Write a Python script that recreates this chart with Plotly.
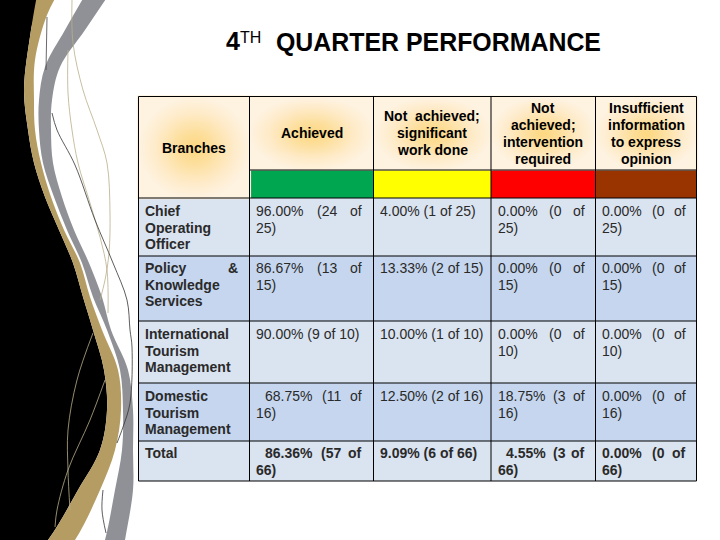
import numpy as np
import plotly.graph_objects as go

# table content, "|" marks a line break, leading space marks an indented first line
title_parts = ["4", "TH", "QUARTER PERFORMANCE"]
col_headers = ["Branches", "Achieved", "Not  achieved;|significant|work done",
               "Not|achieved;|intervention|required",
               "Insufficient|information|to express|opinion"]
branches = ["Chief|Operating|Officer", "Policy & |Knowledge|Services",
            "International|Tourism|Management", "Domestic|Tourism|Management", "Total"]
achieved = ["96.00% (24 of|25)", "86.67% (13 of|15)", "90.00% (9 of 10)",
            " 68.75% (11 of|16)", " 86.36% (57 of|66)"]
significant = ["4.00% (1 of 25)", "13.33% (2 of 15)", "10.00% (1 of 10)",
               "12.50% (2 of 16)", "9.09% (6 of 66)"]
intervention = ["0.00% (0 of|25)", "0.00% (0 of|15)", "0.00% (0 of|10)",
                "18.75% (3 of|16)", " 4.55% (3 of|66)"]
insufficient = ["0.00% (0 of|25)", "0.00% (0 of|15)", "0.00% (0 of|10)",
                "0.00% (0 of|16)", "0.00% (0 of|66)"]
status_colors = ["#00A650", "#FFFF00", "#FF0000", "#993300"]

# table geometry in picture pixels
col_edges = [138.5, 249.5, 373.5, 491, 595.5, 696.5]
row_edges = [96.5, 170, 198, 256, 321, 383, 441, 481]
text_right = [238, 362, 485, 585, 686]
first_line = [211, 268, 334, 396, 453]
LINE = 16.6
FONT = "Liberation Sans, Arial, sans-serif"

fig = go.Figure()


def swoosh(x, y, color):
    fig.add_trace(go.Scatter(x=x, y=y, mode="lines", fill="toself", fillcolor=color,
                             line=dict(color=color, width=0, shape="spline", smoothing=1),
                             hoverinfo="skip"))


def thread(x, y, color):
    fig.add_trace(go.Scatter(x=x, y=y, mode="lines", hoverinfo="skip",
                             line=dict(color=color, width=0.8, shape="spline")))


# left hand slide decoration
gold_out_x = [38, 31, 24, 28, 34, 45, 59, 73, 83, 93, 104, 107, 100, 78, 48, 20]
gold_out_y = [-10, 30, 90, 130, 163, 197, 230, 263, 297, 330, 370, 410, 450, 490, 540, 570]
gold_in_x = [60, 47, 35, 34, 35, 41, 51, 64, 80, 90, 102, 118, 121, 115, 100, 75, 50]
gold_in_y = [-10, 15, 60, 100, 130, 163, 197, 230, 263, 297, 330, 370, 410, 450, 490, 540, 570]
swoosh([-40, -40] + gold_out_x[::-1] + [-40], [-40, 580] + gold_out_y[::-1] + [-40], "#000000")
swoosh(gold_out_x + gold_in_x[::-1], gold_out_y + gold_in_y[::-1], "#B59C62")
gray_l_x = [88, 65, 45, 39, 39, 43, 54, 67, 82, 93, 107, 120, 123, 122, 115, 105, 95]
gray_r_x = [112, 85, 60, 52, 51, 53, 62, 74, 89, 102, 111, 128, 133, 133, 133, 125, 120]
gray_y = [-10, 30, 67, 100, 130, 163, 197, 230, 263, 297, 330, 370, 410, 450, 490, 540, 570]
swoosh(gray_l_x + gray_r_x[::-1], gray_y + gray_y[::-1], "#8F9196")
thread([47, 46], [17, 70], "#444444")
thread([72, 73, 83, 97, 107, 110, 109, 105, 100], [0, 43, 90, 130, 163, 213, 253, 280, 300], "#B9AF8A")
thread([68, 68, 72, 78, 90, 100, 107, 108], [50, 93, 130, 163, 203, 237, 270, 313], "#B9AF8A")
thread([52, 57, 75, 95, 113, 127, 130, 132, 130, 123, 117],
       [113, 130, 165, 220, 263, 300, 330, 347, 403, 427, 443], "#333333")
thread([103, 102, 106], [490, 510, 533], "#333333")
thread([93, 77, 68, 68, 70], [333, 380, 430, 470, 510], "#B9AF8A")
thread([105, 90, 68, 57, 55], [380, 420, 470, 510, 527], "#B9AF8A")

# plain cell backgrounds
shapes = []
for r in range(5):
    shapes.append(dict(type="rect", layer="below", line_width=0,
                       x0=col_edges[0], x1=col_edges[-1], y0=row_edges[r + 2], y1=row_edges[r + 3],
                       fillcolor="#DAE3F0" if r % 2 == 0 else "#C5D6EE"))
for c, color in enumerate(status_colors):
    shapes.append(dict(type="rect", layer="below", line_width=0, fillcolor=color,
                       x0=col_edges[c + 1], x1=col_edges[c + 2], y0=row_edges[1], y1=row_edges[2]))

# header cells have a soft glow in the middle
glow = [[0, "#FEF3E1"], [0.3, "#FEEBC9"], [0.7, "#FDDF9C"], [1, "#FDD880"]]
for c in range(5):
    y_end = row_edges[2] if c == 0 else row_edges[1]
    gx = np.linspace(col_edges[c], col_edges[c + 1], 40)
    gy = np.linspace(row_edges[0], y_end, 40)
    u = (gx - gx.mean()) / (gx[-1] - gx[0]) * 2
    v = (gy - gy.mean()) / (gy[-1] - gy[0]) * 2
    z = np.clip(1 - np.sqrt(u[None, :] ** 2 + v[:, None] ** 2), 0, 1)
    fig.add_trace(go.Heatmap(x=gx, y=gy, z=z, zmin=0, zmax=1, colorscale=glow,
                             zsmooth="best", showscale=False, hoverinfo="skip"))

# grid lines
for x in col_edges:
    shapes.append(dict(type="line", x0=x, x1=x, y0=row_edges[0], y1=row_edges[-1],
                       line=dict(color="#000000", width=1)))
for i, y in enumerate(row_edges):
    x_start = col_edges[1] if i == 1 else col_edges[0]
    shapes.append(dict(type="line", x0=x_start, x1=col_edges[-1], y0=y, y1=y,
                       line=dict(color="#000000", width=1)))

annotations = []


def put(x, y, text, anchor="left", bold=False, size=14, color="#2A2A2A"):
    annotations.append(dict(x=x, y=y, text=f"<b>{text}</b>" if bold else text,
                            xanchor=anchor, yanchor="middle", showarrow=False,
                            borderpad=0, borderwidth=0,
                            font=dict(family=FONT, size=size, color=color)))


def word_width(word, size=14):
    wide = {"%": 0.889, ".": 0.278, "(": 0.333, ")": 0.333, "o": 0.556, "f": 0.278}
    return sum(wide.get(ch, 0.556) for ch in word) * size


def put_cell(c, r, text, bold):
    x0 = col_edges[c] + 6.5
    lines = text.split("|")
    for i, line in enumerate(lines):
        y = first_line[r] + i * LINE
        left = x0
        if i == 0 and line.startswith(" "):
            left += 8.5
        words = line.split()
        if i < len(lines) - 1 and len(words) > 1:
            # justified line: first word left, last word right, rest spread between
            right = text_right[c]
            put(left, y, words[0], bold=bold)
            put(right, y, words[-1], "right", bold=bold)
            if len(words) == 3:
                gap_l = left + word_width(words[0])
                gap_r = right - word_width(words[2])
                put((gap_l + gap_r) / 2, y, words[1], "center", bold=bold)
        else:
            put(left, y, line.strip(), bold=bold)


# column headers
header_y = [148, 133, 133, 133.5, 133.5]
for c, text in enumerate(col_headers):
    lines = text.split("|")
    center = (col_edges[c] + col_edges[c + 1]) / 2
    for i, line in enumerate(lines):
        put(center, header_y[c] + (i - (len(lines) - 1) / 2) * 17, line, "center", bold=True, color="#000000")

# body rows
columns = [branches, achieved, significant, intervention, insufficient]
for c, col in enumerate(columns):
    for r, text in enumerate(col):
        put_cell(c, r, text, bold=(c == 0 or r == len(col) - 1))

# slide title, the TH sits raised and smaller
put(226, 41, title_parts[0], bold=True, size=25, color="#000000")
put(240, 37, title_parts[1], size=16, color="#000000")
put(276, 42, title_parts[2], bold=True, size=24.9, color="#000000")

fig.update_layout(
    width=720,
    height=540,
    margin=dict(l=0, r=0, t=0, b=0),
    paper_bgcolor="#FFFFFF",
    plot_bgcolor="#FFFFFF",
    showlegend=False,
    xaxis=dict(range=[0, 720], visible=False, fixedrange=True),
    yaxis=dict(range=[540, 0], visible=False, fixedrange=True),
    shapes=shapes,
    annotations=annotations,
)

fig.write_html("out.html", config=dict(displayModeBar=False),
               post_script="document.body.style.margin='0';")
